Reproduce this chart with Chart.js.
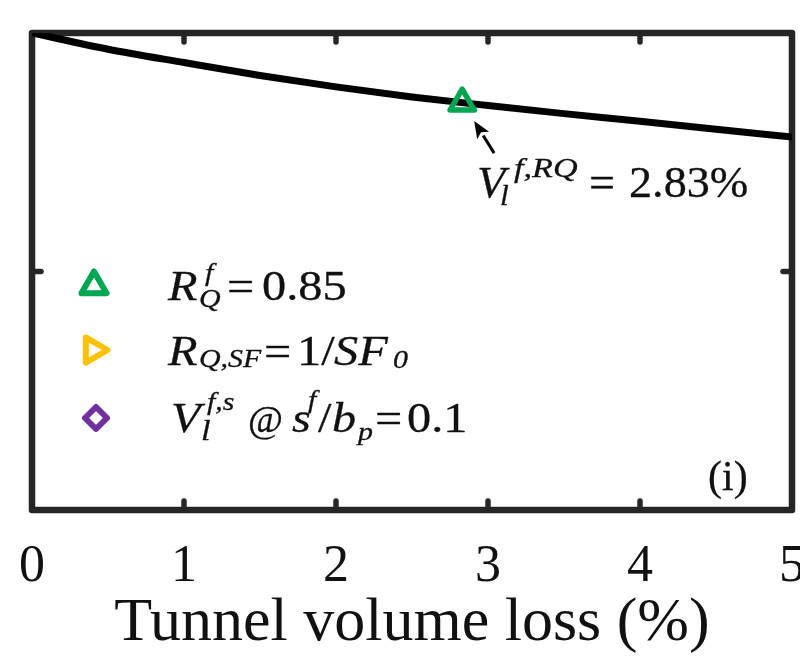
<!DOCTYPE html>
<html>
<head>
<meta charset="utf-8">
<script src="https://cdn.jsdelivr.net/npm/chart.js@4/dist/chart.umd.min.js"></script>
<style>
  html, body { margin: 0; padding: 0; background: #fff; overflow: hidden; }
  #wrap { width: 800px; height: 657px; position: relative; }
</style>
</head>
<body>
<div id="wrap"><canvas id="c" width="800" height="657"></canvas></div>
<script>
// Normalised response against tunnel volume loss
const volumeLoss    = [0, 0.5, 1, 1.5, 2, 2.5, 3, 3.5, 4, 4.5, 5];
const responseRatio = [1.000, 0.966, 0.938, 0.911, 0.887, 0.866, 0.848, 0.831, 0.815, 0.798, 0.782];

// Tick positions
const xTickValues = [0, 1, 2, 3, 4, 5];
const yTickValues = [0, 0.5, 1];

// Critical point where R_Q^f = 0.85
const criticalLoss  = [2.83];
const criticalRatio = [0.853];

// Marker colours: R_Q^f, R_Q,SF, V_l^f,s
const markerColors = ['#00A651', '#FFC000', '#7030A0'];

const FONT = "'Liberation Serif', 'Times New Roman', serif";
const AXIS_COLOR = '#262626';
const TEXT_COLOR = '#111111';

function trianglePath(ctx, x, y, r, rot) {
  ctx.beginPath();
  for (let k = 0; k < 3; k++) {
    const a = rot + k * 2 * Math.PI / 3;
    const px = x + Math.sin(a) * r, py = y - Math.cos(a) * r;
    if (k === 0) ctx.moveTo(px, py); else ctx.lineTo(px, py);
  }
  ctx.closePath();
}
function diamondPath(ctx, x, y, r) {
  ctx.beginPath();
  ctx.moveTo(x, y - r); ctx.lineTo(x + r, y); ctx.lineTo(x, y + r); ctx.lineTo(x - r, y);
  ctx.closePath();
}
// text run with optional horizontal stretch and a thin outline for weight
function txt(ctx, s, x, y, size, italic, sx) {
  ctx.save();
  ctx.font = (italic ? 'italic ' : '') + size + 'px ' + FONT;
  ctx.translate(x, y);
  ctx.scale(sx || 1, 1);
  ctx.fillText(s, 0, 0);
  ctx.lineWidth = 0.3;
  ctx.strokeStyle = ctx.fillStyle;
  ctx.strokeText(s, 0, 0);
  ctx.restore();
}

// Box frame with inward tick marks on all four sides
const framePlugin = {
  id: 'frame',
  beforeDatasetsDraw(chart) {
    const { ctx, chartArea: a, scales: { x: xs, y: ys } } = chart;
    ctx.save();
    ctx.strokeStyle = AXIS_COLOR;
    ctx.lineWidth = 6.5;
    ctx.lineJoin = 'round';
    ctx.lineCap = 'round';
    ctx.strokeRect(a.left, a.top, a.right - a.left, a.bottom - a.top);
    const seg = (x1, y1, x2, y2) => { ctx.beginPath(); ctx.moveTo(x1, y1); ctx.lineTo(x2, y2); ctx.stroke(); };
    ctx.lineWidth = 5.5;
    xTickValues.forEach(v => {
      if (v <= xs.min || v >= xs.max) return;
      const px = xs.getPixelForValue(v);
      seg(px, a.bottom, px, a.bottom - 9);
      seg(px, a.top, px, a.top + 9);
    });
    yTickValues.forEach(v => {
      if (v <= ys.min || v >= ys.max) return;
      const py = ys.getPixelForValue(v);
      seg(a.left, py, a.left + 9, py);
      seg(a.right, py, a.right - 9, py);
    });
    ctx.restore();
  },
  beforeDatasetDraw(chart, args) {
    if (args.index === 0) { chart.ctx.lineJoin = 'round'; }
  },
  afterDatasetDraw(chart, args) {
    if (args.index === 0) { chart.ctx.lineJoin = 'miter'; }
  }
};

// Legend, annotation arrow and labels
const notesPlugin = {
  id: 'notes',
  afterDraw(chart) {
    const { ctx, scales: { x: xs, y: ys } } = chart;
    ctx.save();
    ctx.lineJoin = 'round';
    ctx.lineWidth = 6;
    ctx.fillStyle = '#ffffff';

    // legend markers
    ctx.strokeStyle = markerColors[0];
    trianglePath(ctx, 94, 286, 14.5, 0); ctx.fill(); ctx.stroke();
    ctx.strokeStyle = markerColors[1];
    trianglePath(ctx, 93, 350, 14.5, Math.PI / 2); ctx.fill(); ctx.stroke();
    ctx.strokeStyle = markerColors[2];
    diamondPath(ctx, 96, 418, 11); ctx.fill(); ctx.stroke();

    // legend text
    ctx.fillStyle = TEXT_COLOR;
    ctx.textBaseline = 'alphabetic';
    ctx.textAlign = 'left';
    const S = 42, s = 26, k = 1.15;
    // R_Q^f = 0.85
    txt(ctx, 'R', 168, 300, S, true, k);
    txt(ctx, 'f', 205, 281, s, true, k);
    txt(ctx, 'Q', 199, 307, s, true, k);
    txt(ctx, '=', 227, 300, S, false, k);
    txt(ctx, '0.85', 262, 300, S, false, k);
    // R_Q,SF = 1/SF_0
    txt(ctx, 'R', 168, 365, S, true, k);
    txt(ctx, 'Q,SF', 199, 367, s, true, k);
    txt(ctx, '=', 264, 365, S, false, k);
    txt(ctx, '1/', 297, 365, S, false, k);
    txt(ctx, 'SF', 334, 365, S, true, k);
    txt(ctx, '0', 393, 368, s, true, k);
    // V_l^f,s @ s^f/b_p = 0.1
    txt(ctx, 'V', 171, 432, S, true, k);
    txt(ctx, 'f,s', 207, 410, s, true, k);
    txt(ctx, 'l', 201, 440, 30, true, k);
    txt(ctx, '@', 248, 432, 38, false, 1);
    txt(ctx, 's', 292, 432, S, true, k);
    txt(ctx, 'f', 308, 408, s, true, k);
    txt(ctx, '/', 318, 432, S, false, k);
    txt(ctx, 'b', 332, 432, S, true, k);
    txt(ctx, 'p', 358, 440, s, true, k);
    txt(ctx, '=', 375, 432, S, false, k);
    txt(ctx, '0.1', 407, 432, S, false, k);

    // arrow pointing at the critical point
    const mx = xs.getPixelForValue(criticalLoss[0]);
    const my = ys.getPixelForValue(criticalRatio[0]);
    const tipX = mx + 12, tipY = my + 18;
    const tailX = mx + 32, tailY = my + 50;
    const ang = Math.atan2(tipY - tailY, tipX - tailX);
    const headLen = 17, headHalf = 7;
    const baseX = tipX - Math.cos(ang) * headLen, baseY = tipY - Math.sin(ang) * headLen;
    ctx.strokeStyle = '#000';
    ctx.lineWidth = 3;
    ctx.lineCap = 'butt';
    ctx.beginPath(); ctx.moveTo(tailX, tailY); ctx.lineTo(baseX, baseY); ctx.stroke();
    ctx.fillStyle = '#000';
    ctx.beginPath();
    ctx.moveTo(tipX, tipY);
    ctx.lineTo(baseX + Math.sin(ang) * headHalf, baseY - Math.cos(ang) * headHalf);
    ctx.lineTo(baseX + Math.cos(ang) * 4, baseY + Math.sin(ang) * 4);
    ctx.lineTo(baseX - Math.sin(ang) * headHalf, baseY + Math.cos(ang) * headHalf);
    ctx.closePath();
    ctx.fill();

    // annotation V_l^f,RQ = 2.83%
    ctx.fillStyle = TEXT_COLOR;
    txt(ctx, 'V', 477, 197, 44, true, 1.05);
    txt(ctx, 'l', 500, 205, 30, true, 1.05);
    txt(ctx, 'f,RQ', 514, 177, 28, true, 1.22);
    txt(ctx, '=', 589, 197, 44, false, 1.05);
    txt(ctx, criticalLoss[0].toFixed(2) + '%', 629, 197, 44, false, 1.05);

    // panel tag
    txt(ctx, '(i)', 708, 490, 42, false, 1);
    ctx.restore();
  }
};

// keep the plot box fixed: no label overhang padding, fixed axis height
function fixXAxis(scale) {
  scale.paddingLeft = 0;
  scale.paddingRight = 0;
  scale.height = 145;
}

new Chart(document.getElementById('c'), {
  type: 'line',
  data: {
    datasets: [
      {
        label: 'R_Q^f = 0.85',
        type: 'scatter',
        data: criticalLoss.map((x, i) => ({ x, y: criticalRatio[i] })),
        pointStyle: 'triangle',
        pointRadius: 14,
        pointBorderWidth: 5.5,
        pointBorderColor: markerColors[0],
        pointBackgroundColor: 'rgba(0,0,0,0)',
        showLine: false,
        order: 0
      },
      {
        label: 'response',
        data: volumeLoss.map((x, i) => ({ x, y: responseRatio[i] })),
        borderColor: '#000000',
        borderWidth: 7,
        borderCapStyle: 'round',
        pointRadius: 0,
        cubicInterpolationMode: 'monotone',
        fill: false,
        order: 1
      }
    ]
  },
  options: {
    responsive: false,
    animation: false,
    events: [],
    layout: { autoPadding: false, padding: { left: 32, right: 8, top: 33, bottom: 2 } },
    plugins: { legend: { display: false }, tooltip: { enabled: false } },
    scales: {
      x: {
        type: 'linear', min: 0, max: 5,
        afterBuildTicks: s => { s.ticks = xTickValues.map(v => ({ value: v })); },
        afterFit: fixXAxis,
        grid: { display: false, drawTicks: false },
        border: { display: false },
        ticks: { padding: 31, color: TEXT_COLOR, maxRotation: 0, autoSkip: false,
                 font: { family: FONT, size: 52, lineHeight: 1 } },
        title: { display: true, text: 'Tunnel volume loss (%)', color: TEXT_COLOR,
                 font: { family: FONT, size: 62, lineHeight: 1 }, padding: { top: 0, bottom: 0 } }
      },
      y: {
        type: 'linear', min: 0, max: 1, display: false,
        afterBuildTicks: s => { s.ticks = yTickValues.map(v => ({ value: v })); }
      }
    }
  },
  plugins: [framePlugin, notesPlugin]
});
</script>
</body>
</html>
